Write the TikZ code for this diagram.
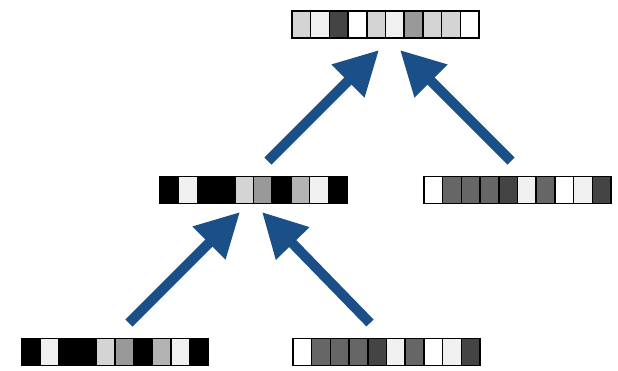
\documentclass[tikz,border=0pt]{standalone}
\usetikzlibrary{arrows.meta,calc}

\definecolor{arrowblue}{HTML}{1A4F88}

\tikzset{
  stripebox/.style={draw=black, line width=1.5pt, minimum width=187pt,
                    minimum height=27pt, inner sep=0pt, outer sep=0pt},
  cellline/.style={draw=black, line width=1.5pt},
  flow/.style={line width=10pt, draw=arrowblue,
               -{Triangle[length=44pt,width=44pt]}},
}

% #1 node name, #2 centre, #3 list of grey levels (0-255), one per cell
\newcommand\stripe[3]{%
  \node[stripebox] (#1) at (#2) {};
  \foreach \g [count=\i from 0] in {#3} {
    \filldraw[cellline, fill={rgb,255:red,\g;green,\g;blue,\g}]
      ($(#1.north west)+(\i*18.7,0)$) rectangle ++(18.7,27);
  }
}

\begin{document}
\begin{tikzpicture}[x=1pt,y=-1pt]
  \useasboundingbox (0,0) rectangle (618,370);

  % strips of cells
  \stripe{top}{385.5,24.5}{212,240,68,255,212,240,153,212,212,255}
  \stripe{midl}{253.5,190}{0,240,0,0,212,153,0,179,240,0}
  \stripe{midr}{517.5,190}{255,102,102,102,68,240,102,255,240,68}
  \stripe{botl}{115,352}{0,240,0,0,212,153,0,179,240,0}
  \stripe{botr}{386.5,352}{255,102,102,102,68,240,102,255,240,68}

  % arrow end points
  \coordinate (a1s) at (268,161);
  \coordinate (a1e) at (379,50);
  \coordinate (a2s) at (511,161);
  \coordinate (a2e) at (400,50);
  \coordinate (a3s) at (129,323);
  \coordinate (a3e) at (240,212);
  \coordinate (a4s) at (370,323);
  \coordinate (a4e) at (262,212);

  % arrows
  \draw[flow] (a1s) -- (a1e);
  \draw[flow] (a2s) -- (a2e);
  \draw[flow] (a3s) -- (a3e);
  \draw[flow] (a4s) -- (a4e);
\end{tikzpicture}
\end{document}
